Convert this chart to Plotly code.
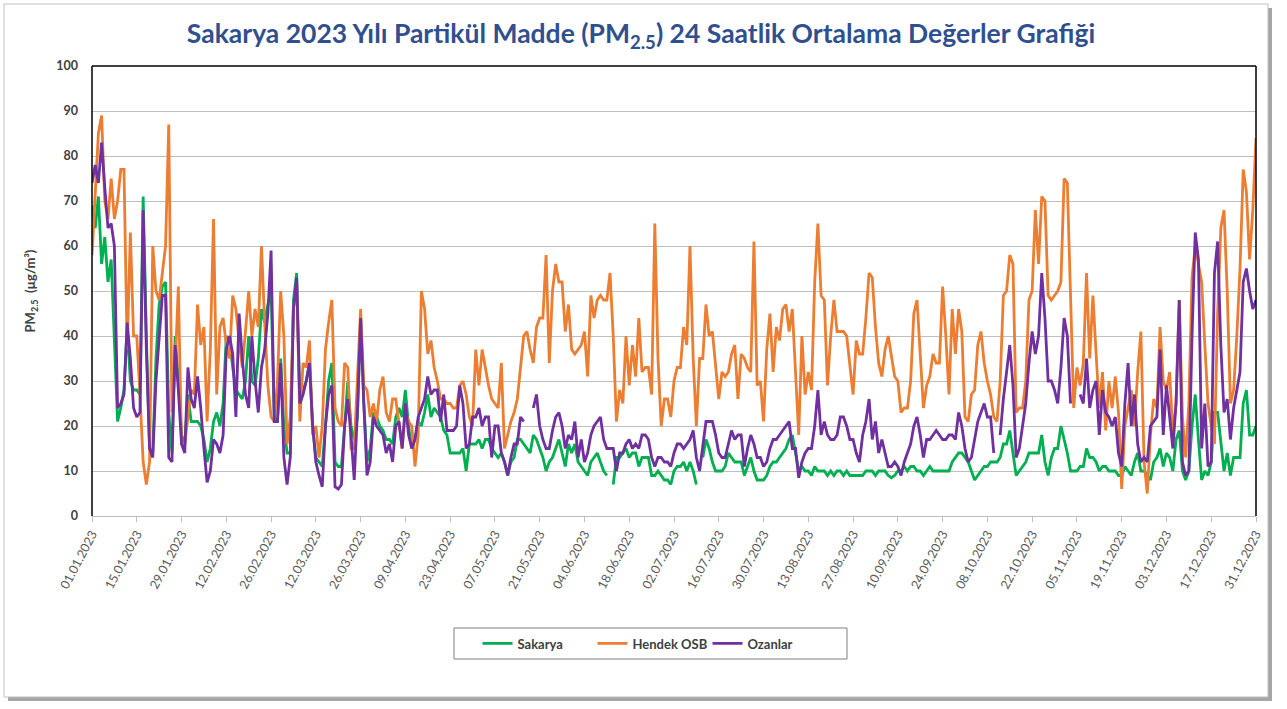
import pandas as pd
import plotly.graph_objects as go

N = None
dates = pd.date_range("2023-01-01", "2023-12-31", freq="D")

sakarya = [
 69, 64, 71, 56, 62, 52, 57, 40, 21, 24,
 28, 42, 30, 28, 28, 27, 71, 40, 15, 14,
 35, 47, 51, 52, 23, 14, 40, 30, 18, 16,
 27, 21, 21, 21, 20, 17, 12, 15, 21, 23,
 20, 25, 40, 39, 33, 28, 27, 26, 30, 40,
 30, 29, 35, 46, 43, 47, 50, 22, 21, 35,
 20, 14, 14, 48, 54, 25, 28, 30, 34, 20,
 13, 12, 11, 20, 30, 34, 12, 11, 11, 20,
 30, 20, 17, 22, 44, 25, 12, 15, 23, 22,
 20, 19, 17, 17, 16, 22, 24, 22, 28, 20,
 15, 17, 21, 20, 23, 27, 22, 24, 23, 22,
 19, 18, 14, 14, 14, 14, 15, 10, 16, 16,
 16, 17, 15, 17, 17, 15, 14, 13, 14, 12,
 9, 12, 13, 17, 17, 16, 15, 14, 18, 17,
 15, 13, 10, 12, 13, 15, 17, 14, 11, 16,
 14, 16, 12, 11, 10, 9, 12, 13, 14, 12,
 10, 9, N, 7, 13, 13, 14, 15, 13, 14,
 14, 11, 13, 13, 13, 9, 9, 10, 9, 8,
 8, 7, 10, 11, 11, 12, 10, 12, 10, 7,
 N, 13, 17, 15, 12, 10, 10, 10, 11, 14,
 13, 12, 12, 12, 9, 11, 13, 10, 8, 8,
 8, 9, 11, 12, 12, 13, 14, 15, 17, 18,
 14, 10, 11, 10, 10, 9, 11, 10, 10, 10,
 9, 10, 9, 10, 10, 9, 10, 9, 9, 9,
 9, 9, 10, 10, 10, 9, 10, 10, 10, 9,
 8.5, 9, 10, 10, 11, 10, 11, 11, 10, 10,
 9, 10, 11, 10, 10, 10, 10, 10, 10, 12,
 13, 14, 14, 13, 12, 10, 8, 9, 10, 11,
 11, 12, 12, 12, 13, 16, 16, 19, 14, 9,
 10, 11, 12, 14, 14, 14, 14, 18, 12, 9,
 13, 15, 15, 20, 17, 14, 10, 10, 10, 11,
 11, 15, 13, 13, 12, 10, 11, 11, 10, 10,
 10, 9, 9, 11, 10, 9, 12, 14, 10, 10,
 9, 8, 12, 13, 15, 11, 14, 13, 10, 17,
 19, 10, 8, 10, 20, 27, 17, 8, 10, 9,
 12, 23, 23, 17, 10, 14, 9, 13, 13, 13,
 25, 28, 18, 18, 20,
]

hendek_osb = [
 58, 72, 85, 89, 70, 66, 75, 66, 70, 77,
 77, 37, 63, 40, 40, 27, 12, 7, 12, 60,
 50, 48, 54, 60, 87, 23, 33, 51, 16, 16,
 22, 28, 27, 47, 38, 42, 21, 37, 66, 27,
 42, 44, 38, 35, 49, 46, 39, 33, 41, 50,
 40, 46, 42, 60, 43, 29, 22, 21, 30, 50,
 40, 16, 22, 46, 52, 21, 34, 33, 39, 18,
 20, 13, 20, 37, 43, 48, 24, 21, 20, 34,
 33, 15, 15, 32, 46, 29, 28, 22, 25, 21,
 28, 31, 23, 21, 26, 26, 20, 15, 23, 21,
 20, 11, 18, 50, 46, 36, 39, 33, 30, 26,
 26, 25, 25, 24, 24, 29, 30, 27, 22, 20,
 37, 29, 37, 33, 29, 26, 25, 24, 34, 15,
 18, 21, 23, 26, 33, 40, 41, 37, 34, 42,
 44, 44, 58, 34, 50, 56, 52, 52, 41, 47,
 37, 36, 37, 38, 41, 31, 49, 44, 48, 49,
 48, 48, 54, 40, 21, 28, 25, 40, 29, 38,
 31, 44, 32, 33, 33, 27, 65, 35, 20, 26,
 26, 22, 30, 33, 33, 42, 38, 60, 35, 20,
 35, 35, 47, 40, 41, 34, 26, 32, 31, 32,
 36, 38, 26, 36, 35, 33, 32, 61, 29, 30,
 21, 37, 45, 32, 42, 39, 46, 47, 41, 46,
 33, 18, 40, 27, 32, 28, 52, 65, 49, 48,
 29, 40, 48, 41, 41, 41, 40, 34, 27, 39,
 36, 36, 44, 54, 53, 42, 34, 31, 37, 40,
 35, 31, 30, 23, 24, 24, 30, 45, 48, 36,
 24, 29, 31, 36, 34, 34, 51, 40, 27, 46,
 36, 46, 41, 22, 21, 27, 28, 38, 41, 34,
 30, 27, 22, 21, 30, 49, 50, 58, 56, 23,
 24, 24, 30, 48, 50, 68, 56, 71, 70, 49,
 48, 49, 50, 52, 75, 74, 51, 24, 33, 29,
 34, 54, 35, 49, 36, 24, 32, 19, 30, 24,
 31, 23, 6, 20, 24, 28, 20, 32, 41, 12,
 5, 18, 26, 24, 42, 30, 28, 32, 18, 25,
 48, 22, 13, 25, 53, 60, 56, 52, 38, 25,
 20, 16, 45, 64, 68, 50, 25, 28, 40, 55,
 77, 72, 57, 68, 84,
]

ozanlar = [
 74, 78, 74, 83, 73, 64, 65, 60, 24, 25,
 27, 43, 35, 24, 22, 23, 68, 37, 15, 13,
 30, 40, 49, 49, 13, 12, 38, 28, 16, 14,
 33, 26, 24, 31, 24, 15, 7.5, 10, 17, 16,
 14, 18, 37, 40, 36, 22, 45, 35, 27, 24,
 40, 30, 23, 33, 37, 45, 59, 21, 21, 34,
 13, 7, 13, 46, 53, 25, 27, 30, 34, 20,
 12, 9, 6.5, 20, 27, 29, 6.5, 6, 7, 20,
 26, 18, 8, 23, 44, 25, 9, 12, 22, 20,
 19, 18, 14, 16, 12, 20, 21, 15, 25, 18,
 15, 17, 22, 24, 26, 31, 27, 28, 28, 21,
 27, 19, 19, 19, 20, 29, 25, 15, 16, 22,
 22, 24, 20, 22, 22, 13, 20, 20, 14, 12,
 9, 13, 16, 16, 22, 21, N, N, 24, 27,
 20, 17, 15, 15, 19, 22, 23, 20, 15, 18,
 17, 21, 13, 17, 12, 14, 18, 20, 21, 22,
 17, 15, 15, 15, 10, 14, 14, 16, 17, 15,
 16, 15, 18, 18, 17, 13, 11, 13, 13, 12,
 12, 11, 14, 16, 16, 15, 16, 17, 19, 13,
 10, 16, 21, 21, 21, 18, 14, 13, 13, 16,
 19, 17, 18, 18, 11, 15, 18, 16, 13, 13,
 11, 12, 15, 17, 17, 18, 19, 20, 21, 15,
 15, 8.5, 12, 14, 15, 15, 20, 28, 18, 21,
 18, 17, 17, 18, 22, 22, 20, 17, 17, 14,
 12, 18, 21, 26, 17, 21, 14, 17, 14, 11,
 11, 12, 11, 9, 12, 14, 16, 20, 22, 18,
 13, 17, 17, 18, 19, 18, 17, 17, 18, 18,
 17, 23, 20, 15, 12, 13, 17, 21, 23, 25,
 22, 22, 14, N, 18, 26, 32, 38, 29, 13,
 15, 20, 25, 34, 41, 36, 40, 54, 44, 30,
 30, 28, 25, 33, 44, 40, 25, N, N, 27,
 25, 35, 24, 28, 30, 18, 28, 23, 22, 20,
 22, 14, 11, 25, 34, 20, 27, 16, 12, 13,
 12, 20, 21, 22, 37, 18, 29, 22, 15, 25,
 48, 12, 9, 10, 40, 63, 57, 15, 25, 11,
 12, 54, 61, 38, 23, 26, 17, 24, 28, 32,
 52, 55, 50, 46, 48,
]

series_names = ["Sakarya", "Hendek OSB", "Ozanlar"]
series_colors = ["#00B050", "#ED7D31", "#7030A0"]
y_ticks = list(range(0, 101, 10))

fig = go.Figure()
for name, vals, col in zip(series_names, [sakarya, hendek_osb, ozanlar], series_colors):
    fig.add_trace(go.Scatter(x=dates, y=vals, name=f"<b>{name}</b>", mode="lines",
                             line=dict(color=col, width=2.8), connectgaps=False))

W, H = 1287, 709
L, R, T, B = 92, 31, 66, 193
pw, ph = W - L - R, H - T - B

def px_x(p):
    return (p - L) / pw

def px_y(p):
    return (H - B - p) / ph

shapes = [
    # shadow
    dict(type="rect", xref="paper", yref="paper", layer="below",
         x0=px_x(8), x1=px_x(1272), y0=px_y(701), y1=px_y(8),
         fillcolor="#A6A6A6", line=dict(width=0)),
    # chart frame
    dict(type="rect", xref="paper", yref="paper", layer="below",
         x0=px_x(4), x1=px_x(1268), y0=px_y(697), y1=px_y(4),
         fillcolor="white", line=dict(color="#BFBFBF", width=1)),
    # legend box
    dict(type="rect", xref="paper", yref="paper", layer="below",
         x0=px_x(454), x1=px_x(847), y0=px_y(659), y1=px_y(628),
         fillcolor="white", line=dict(color="#7F7F7F", width=1)),
    # plot border left/top/right
    dict(type="line", xref="x domain", yref="y domain", x0=0, x1=0, y0=0, y1=1,
         line=dict(color="#000000", width=1.5)),
    dict(type="line", xref="x domain", yref="y domain", x0=0, x1=1, y0=1, y1=1,
         line=dict(color="#000000", width=1.5)),
    dict(type="line", xref="x domain", yref="y domain", x0=1, x1=1, y0=0, y1=1,
         line=dict(color="#000000", width=1.5)),
]

fig.update_layout(
    width=W, height=H,
    margin=dict(l=L, r=R, t=T, b=B, autoexpand=False),
    paper_bgcolor="white",
    plot_bgcolor="rgba(0,0,0,0)",
    font=dict(family="Lato, Open Sans, sans-serif", color="#404040"),
    title=dict(text="<b>Sakarya 2023 Yılı Partikül Madde (PM<sub>2.5</sub>) 24 Saatlik Ortalama Değerler Grafiği</b>",
               x=px_x(641), xref="paper", xanchor="center", y=1 - 34 / H, yanchor="middle",
               font=dict(size=26.5, color="#2F4F8F", family="Lato, Open Sans, sans-serif")),
    shapes=shapes,
    showlegend=True,
    legend=dict(orientation="h", x=px_x(650), xanchor="center", y=px_y(643.5), yanchor="middle",
                borderwidth=0, bgcolor="rgba(0,0,0,0)",
                font=dict(size=13, color="#404040", family="Lato, Open Sans, sans-serif"),
                entrywidth=70, entrywidthmode="pixels", itemwidth=30,
                traceorder="normal"),
)

fig.update_xaxes(
    type="date",
    range=["2023-01-01", "2023-12-31"],
    tick0="2023-01-01", dtick=14 * 86400000,
    tickformat="%d.%m.%Y",
    tickangle=-62,
    tickfont=dict(size=12.5, color="#595959"),
    ticks="outside", ticklen=5, tickcolor="#BFBFBF",
    showgrid=False, showline=True, linecolor="#BFBFBF", linewidth=1,
    zeroline=False, automargin=False,
)
fig.update_yaxes(
    range=[0, 100], tickvals=y_ticks, ticktext=[f"<b>{v}</b>" for v in y_ticks],
    tickfont=dict(size=12.5, color="#404040"),
    showgrid=True, gridcolor="#BFBFBF", gridwidth=1,
    zeroline=False, showline=False, ticks="", ticklabelstandoff=13,
    automargin=False,
    title=dict(text="<b>PM<sub>2.5</sub>  (µg/m³)</b>", font=dict(size=13, color="#404040"), standoff=17),
)

fig.write_html("out.html", config={"displayModeBar": False},
               post_script="document.body.style.margin='0';document.body.style.overflow='hidden';")
